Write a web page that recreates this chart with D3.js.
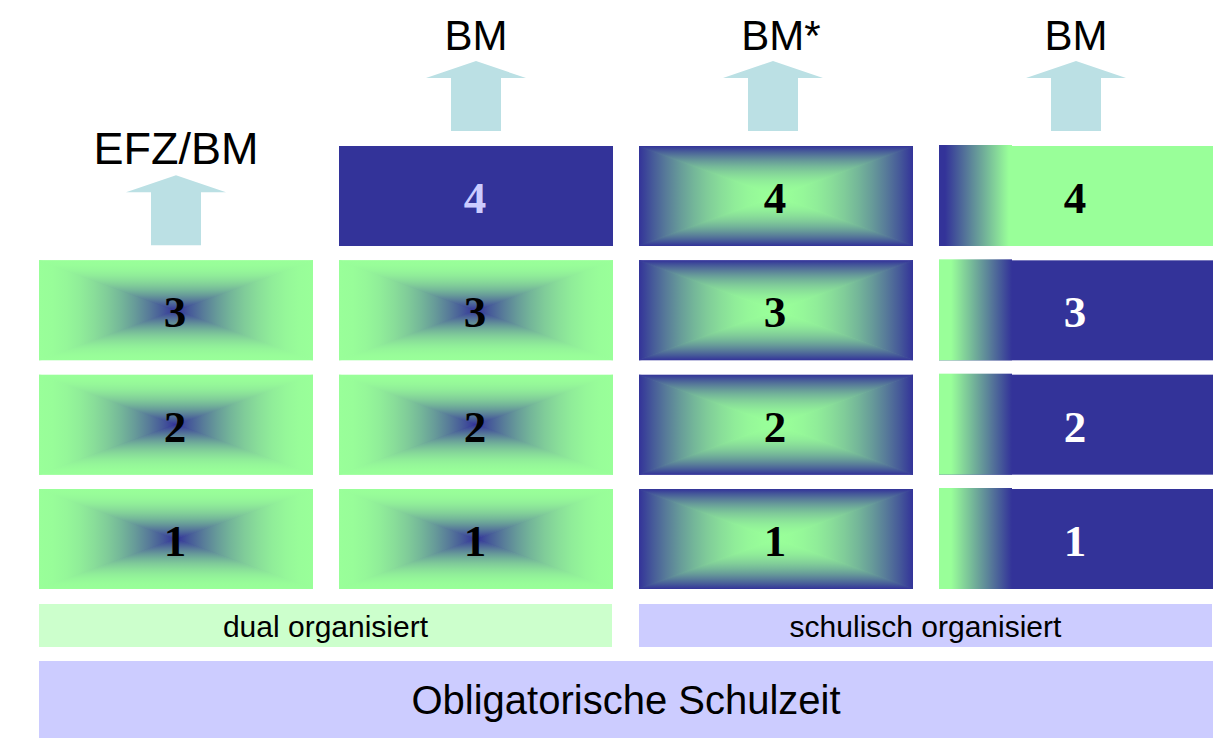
<!DOCTYPE html>
<html>
<head>
<meta charset="utf-8">
<script src="https://cdn.jsdelivr.net/npm/d3@7"></script>
<style>
  body { margin: 0; background: #fff; }
  svg { display: block; }
</style>
</head>
<body>
<div id="chart"></div>
<script>
// paths through upper secondary school, one column per path
var paths = ["dual3", "dual4", "school4", "school3plus1"];
var pathYears = [3, 4, 4, 4];
var outcomes = ["EFZ/BM", "BM", "BM*", "BM"];
var years = ["4", "3", "2", "1"];
var groupLabels = ["dual organisiert", "schulisch organisiert"];
var groupSpan = [[0, 1], [2, 3]];
var baseLabel = "Obligatorische Schulzeit";

var GREEN = "#99ff99", BLUE = "#333399";
var width = 1221, height = 754;

var svg = d3.select("#chart").append("svg")
  .attr("width", width)
  .attr("height", height);
var defs = svg.append("defs");

var x = d3.scaleBand().domain(paths).range([39, 1213]).paddingInner(0.0867);
var y = d3.scaleBand().domain(years).range([146, 589]).paddingInner(0.1254);

var gid = 0;

// linear gradient in user space; curve(t) gives the share of c1 at t
function grad(x1, y1, x2, y2, c0, c1, curve) {
  var id = "g" + (gid++);
  var g = defs.append("linearGradient").attr("id", id)
    .attr("gradientUnits", "userSpaceOnUse")
    .attr("x1", x1).attr("y1", y1).attr("x2", x2).attr("y2", y2);
  var ip = d3.interpolateRgb(c0, c1);
  d3.range(0, 1.001, 0.1).forEach(function(t) {
    g.append("stop").attr("offset", t).attr("stop-color", ip(curve(t)));
  });
  return "url(#" + id + ")";
}

// rectangular "from centre" gradient made of four triangles
function boxGradient(g, x0, y0, w, h, edge, centre, curve) {
  var x1 = x0 + w, y1 = y0 + h, cx = x0 + w / 2, cy = y0 + h / 2;
  var tris = [
    {pts: [[x0, y0], [x0, y1], [cx, cy]], f: grad(x0, cy, cx, cy, edge, centre, curve)},
    {pts: [[x1, y0], [x1, y1], [cx, cy]], f: grad(x1, cy, cx, cy, edge, centre, curve)},
    {pts: [[x0, y0], [x1, y0], [cx, cy]], f: grad(cx, y0, cx, cy, edge, centre, curve)},
    {pts: [[x0, y1], [x1, y1], [cx, cy]], f: grad(cx, y1, cx, cy, edge, centre, curve)}
  ];
  var clipId = "c" + (gid++);
  defs.append("clipPath").attr("id", clipId)
    .append("rect").attr("x", x0).attr("y", y0).attr("width", w).attr("height", h);
  var cg = g.append("g").attr("clip-path", "url(#" + clipId + ")");
  tris.forEach(function(t) {
    cg.append("path").attr("d", "M" + t.pts.join("L") + "Z")
      .attr("fill", t.f).attr("stroke", t.f).attr("stroke-width", 1.2)
      .attr("stroke-linejoin", "round");
  });
}

var cells = svg.append("g");
paths.forEach(function(p, i) {
  var yrs = years.slice(years.length - pathYears[i]);
  yrs.forEach(function(yr) {
    var x0 = x(p), y0 = y(yr), w = x.bandwidth(), h = y.bandwidth();
    var g = cells.append("g");
    var color = "#000";
    if (i < 2 && yr !== "4") {
      boxGradient(g, x0, y0, w, h, GREEN, BLUE, function(t) { return t * t; });
    } else if (i === 1) {
      g.append("rect").attr("x", x0).attr("y", y0).attr("width", w).attr("height", h).attr("fill", BLUE);
      color = "#ccccff";
    } else if (i === 2) {
      boxGradient(g, x0, y0, w, h, BLUE, GREEN, function(t) { return 1 - (1 - t) * (1 - t); });
    } else {
      var top = yr === "4";
      var solid = top ? GREEN : BLUE;
      var strip = 73;
      g.append("rect").attr("x", x0).attr("y", y0).attr("width", w).attr("height", h).attr("fill", solid);
      var f = top
        ? grad(x0 + 6, 0, x0 + 70, 0, BLUE, GREEN, function(t) { return t; })
        : grad(x0 + 12, 0, x0 + strip, 0, GREEN, BLUE, function(t) { return t; });
      g.append("rect").attr("x", x0).attr("y", y0 - 1).attr("width", strip).attr("height", h + 1).attr("fill", f);
      if (!top) color = "#fff";
    }
    g.append("text")
      .attr("x", x0 + w / 2 - 1)
      .attr("y", y0 + h / 2 + 17)
      .attr("text-anchor", "middle")
      .attr("font-family", "'Liberation Serif', 'Times New Roman', serif")
      .attr("font-weight", "bold")
      .attr("font-size", 45)
      .attr("fill", color)
      .text(yr);
  });

  // arrow + outcome above the highest year
  var topYear = yrs[0];
  var bottom = y(topYear) - 15;
  var cx = x(p) + x.bandwidth() / 2 - (i === 2 ? 3 : 0);
  var tip = bottom - 70, base = tip + 17;
  var arrow = [[cx, tip], [cx + 50, base], [cx + 25, base], [cx + 25, bottom],
               [cx - 25, bottom], [cx - 25, base], [cx - 50, base]];
  svg.append("path").attr("d", "M" + arrow.join("L") + "Z").attr("fill", "#bbe0e4");
  svg.append("text")
    .attr("x", cx + (i === 2 ? 8 : 0))
    .attr("y", tip - 11)
    .attr("text-anchor", "middle")
    .attr("font-family", "'Liberation Sans', Arial, sans-serif")
    .attr("font-size", i === 0 ? 45 : 42)
    .attr("fill", "#000")
    .text(outcomes[i]);
});

// organisation bars
groupLabels.forEach(function(lbl, i) {
  var a = x(paths[groupSpan[i][0]]), b = x(paths[groupSpan[i][1]]) + x.bandwidth() - 1;
  svg.append("rect").attr("x", a).attr("y", 604).attr("width", b - a).attr("height", 43)
    .attr("fill", i === 0 ? "#ccffcc" : "#ccccff");
  svg.append("text")
    .attr("x", (a + b) / 2).attr("y", 637)
    .attr("text-anchor", "middle")
    .attr("font-family", "'Liberation Sans', Arial, sans-serif")
    .attr("font-size", 30)
    .text(lbl);
});

var r = x.range();
svg.append("rect").attr("x", r[0]).attr("y", 661).attr("width", r[1] - r[0]).attr("height", 77)
  .attr("fill", "#ccccff");
svg.append("text")
  .attr("x", (r[0] + r[1]) / 2).attr("y", 714)
  .attr("text-anchor", "middle")
  .attr("font-family", "'Liberation Sans', Arial, sans-serif")
  .attr("font-size", 40)
  .text(baseLabel);
</script>
</body>
</html>
